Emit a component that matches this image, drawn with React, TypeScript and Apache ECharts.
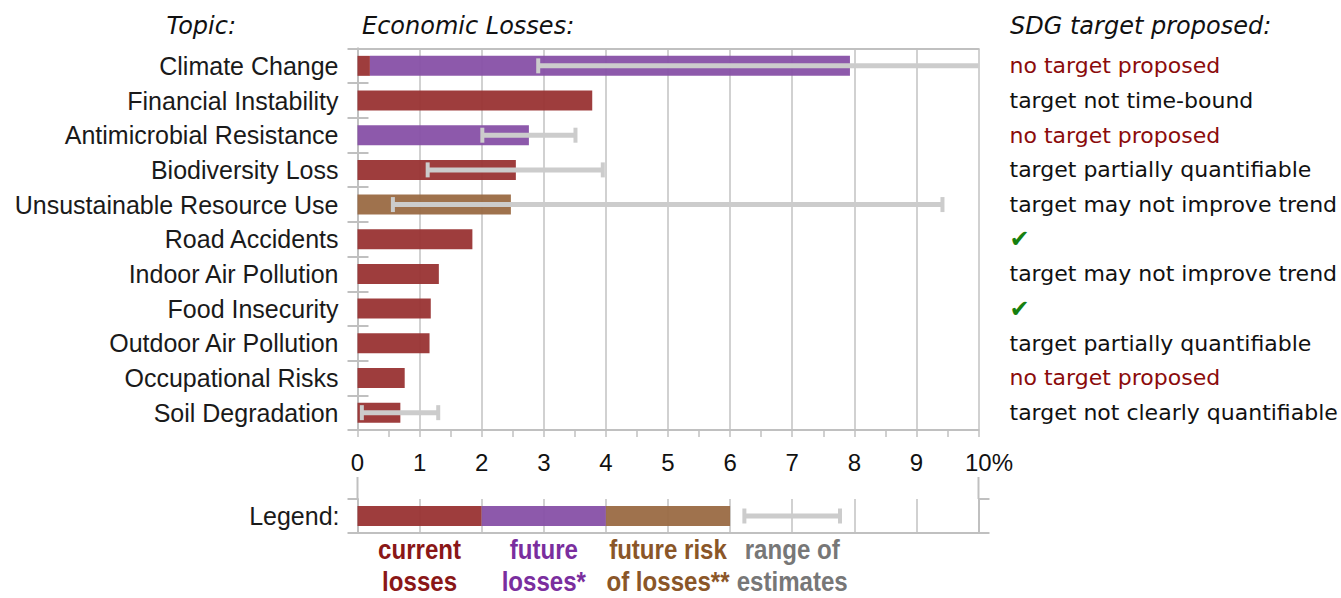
import React, { useEffect, useRef } from "react";
import * as echarts from "echarts";

const topics = [
  "Climate Change",
  "Financial Instability",
  "Antimicrobial Resistance",
  "Biodiversity Loss",
  "Unsustainable Resource Use",
  "Road Accidents",
  "Indoor Air Pollution",
  "Food Insecurity",
  "Outdoor Air Pollution",
  "Occupational Risks",
  "Soil Degradation",
];
const currentLosses = [0.2, 3.78, 0, 2.55, 0, 1.85, 1.31, 1.18, 1.16, 0.76, 0.69];
const futureLosses = [7.73, 0, 2.76, 0, 0, 0, 0, 0, 0, 0, 0];
const futureRiskLosses = [0, 0, 0, 0, 2.47, 0, 0, 0, 0, 0, 0];
const estimateLow: (number | null)[] = [2.91, null, 2.01, 1.13, 0.57, null, null, null, null, null, 0.07];
const estimateHigh: (number | null)[] = [10.5, null, 3.51, 3.95, 9.42, null, null, null, null, null, 1.3];
const sdgStatus = [
  "no target proposed",
  "target not time-bound",
  "no target proposed",
  "target partially quantifiable",
  "target may not improve trend",
  "✔",
  "target may not improve trend",
  "✔",
  "target partially quantifiable",
  "no target proposed",
  "target not clearly quantifiable",
];
const axisMax = 10;
const axisTickLabels = ["0", "1", "2", "3", "4", "5", "6", "7", "8", "9", "10%"];

const legendCategory = ["Legend:"];
const legendCurrent = [2];
const legendFuture = [2];
const legendRisk = [2];
const legendRange = [6.23, 7.77];
const legendLabels = [
  ["current", "losses"],
  ["future", "losses*"],
  ["future risk", "of losses**"],
  ["range of", "estimates"],
];
const legendLabelPositions = [1, 3, 5, 7];
const legendColors = ["#8a1717", "#7a2e9e", "#8a5628", "#777777"];

const RED = "#993333";
const PURPLE = "#8750a7";
const BROWN = "#9a6a43";
const GRID_COLOR = "#c2c2c2";
const FRAME_COLOR = "#c0c0c0";
const ERR_COLOR = "#cccccc";

const G0 = { left: 357.5, top: 48.5, width: 621, height: 381.5 };
const G1 = { left: 357.5, top: 499, width: 621, height: 34 };

function errorRender(params: any, api: any) {
  const lo = api.value(0);
  const hi = api.value(1);
  const cat = api.value(2);
  const p0 = api.coord([lo, cat]);
  const p1 = api.coord([Math.min(hi, axisMax), cat]);
  const capH = 15;
  const children: any[] = [
    {
      type: "line",
      shape: { x1: p0[0], y1: p0[1], x2: p1[0], y2: p1[1] },
      style: { stroke: ERR_COLOR, lineWidth: 5 },
    },
    {
      type: "line",
      shape: { x1: p0[0], y1: p0[1] - capH / 2, x2: p0[0], y2: p0[1] + capH / 2 },
      style: { stroke: ERR_COLOR, lineWidth: 4 },
    },
  ];
  if (hi <= axisMax) {
    children.push({
      type: "line",
      shape: { x1: p1[0], y1: p1[1] - capH / 2, x2: p1[0], y2: p1[1] + capH / 2 },
      style: { stroke: ERR_COLOR, lineWidth: 4 },
    });
  }
  return { type: "group", children };
}

export default function App() {
  const ref = useRef<HTMLDivElement>(null);
  useEffect(() => {
    if (!ref.current) return;
    const chart = echarts.init(ref.current, undefined, { renderer: "svg" });
    const errData: any[] = [];
    topics.forEach((_, i) => {
      if (estimateLow[i] != null && estimateHigh[i] != null) errData.push([estimateLow[i], estimateHigh[i], i]);
    });
    const unit = G1.width / axisMax;
    const legendGraphics: any[] = [];
    legendLabels.forEach((lines, i) => {
      lines.forEach((t, j) => {
        legendGraphics.push({
          type: "text",
          x: G1.left + legendLabelPositions[i] * unit,
          y: 549 + j * 32,
          scaleX: 0.86,
          style: {
            text: t,
            fill: legendColors[i],
            font: "bold 28px 'Liberation Sans', Arial, sans-serif",
            align: "center",
            verticalAlign: "middle",
            lineHeight: 22,
          },
        });
      });
    });
    const headerFont = "italic 24px 'DejaVu Sans', Verdana, sans-serif";
    const option: any = {
      animation: false,
      grid: [
        { left: G0.left, top: G0.top, width: G0.width, height: G0.height, outerBoundsMode: "none", containLabel: false },
        { left: G1.left, top: G1.top, width: G1.width, height: G1.height, outerBoundsMode: "none", containLabel: false },
      ],
      xAxis: [
        {
          type: "value",
          gridIndex: 0,
          min: 0,
          max: axisMax,
          interval: 1,
          axisLine: { show: true, onZero: false, lineStyle: { color: FRAME_COLOR, width: 2 } },
          axisTick: { show: true, length: 7, lineStyle: { color: FRAME_COLOR, width: 1.5 } },
          minorTick: { show: true, splitNumber: 2, length: 7, lineStyle: { color: FRAME_COLOR, width: 1.5 } },
          splitLine: { show: true, lineStyle: { color: GRID_COLOR, width: 1.5 } },
          axisLabel: {
            margin: 20,
            fontSize: 24,
            fontFamily: "'Liberation Sans', Arial, sans-serif",
            color: "#111111",
            formatter: (v: number) => {
              const s = axisTickLabels[Math.round(v)] ?? String(v);
              return s.endsWith("%") ? "{pad|}" + s : s;
            },
            rich: { pad: { width: 21 } },
          },
        },
        {
          type: "value",
          gridIndex: 0,
          position: "top",
          min: 0,
          max: axisMax,
          axisLine: { show: true, onZero: false, lineStyle: { color: FRAME_COLOR, width: 2 } },
          axisTick: { show: false },
          axisLabel: { show: false },
          splitLine: { show: false },
        },
        {
          type: "value",
          gridIndex: 1,
          min: 0,
          max: axisMax,
          interval: 1,
          axisLine: { show: true, onZero: false, lineStyle: { color: FRAME_COLOR, width: 2 } },
          axisTick: { show: false },
          axisLabel: { show: false },
          splitLine: { show: true, lineStyle: { color: GRID_COLOR, width: 1.5 } },
        },
      ],
      yAxis: [
        {
          type: "category",
          gridIndex: 0,
          data: topics,
          inverse: true,
          axisLine: { show: true, lineStyle: { color: FRAME_COLOR, width: 2 } },
          axisTick: { show: true, length: 10, lineStyle: { color: FRAME_COLOR, width: 2 } },
          axisLabel: {
            margin: 19,
            fontSize: 25,
            fontFamily: "'Liberation Sans', Arial, sans-serif",
            color: "#1a1a1a",
          },
        },
        {
          type: "category",
          gridIndex: 0,
          position: "right",
          data: topics,
          inverse: true,
          axisLine: { show: true, lineStyle: { color: FRAME_COLOR, width: 2 } },
          axisTick: { show: true, length: 11, lineStyle: { color: FRAME_COLOR, width: 2 } },
          axisLabel: {
            margin: 31,
            formatter: (_v: string, i: number) => {
              const s = sdgStatus[i];
              if (s === "✔") return "{ok|✔}";
              if (s === "no target proposed") return "{red|" + s + "}";
              return "{txt|" + s + "}";
            },
            rich: {
              txt: { fontSize: 22, fontFamily: "'DejaVu Sans', Verdana, sans-serif", color: "#111111" },
              red: { fontSize: 22, fontFamily: "'DejaVu Sans', Verdana, sans-serif", color: "#8b0b0b" },
              ok: { fontSize: 24, fontFamily: "'DejaVu Sans', sans-serif", color: "#16800f" },
            },
          },
        },
        {
          type: "category",
          gridIndex: 1,
          data: legendCategory,
          axisLine: { show: true, lineStyle: { color: FRAME_COLOR, width: 2 } },
          axisTick: { show: true, length: 10, lineStyle: { color: FRAME_COLOR, width: 2 } },
          axisLabel: {
            margin: 18,
            fontSize: 25,
            fontFamily: "'Liberation Sans', Arial, sans-serif",
            color: "#1a1a1a",
          },
        },
        {
          type: "category",
          gridIndex: 1,
          position: "right",
          data: legendCategory,
          axisLine: { show: true, lineStyle: { color: FRAME_COLOR, width: 2 } },
          axisTick: { show: true, length: 11, lineStyle: { color: FRAME_COLOR, width: 2 } },
          axisLabel: { show: false },
        },
      ],
      series: [
        {
          type: "bar",
          name: "current losses",
          xAxisIndex: 0,
          yAxisIndex: 0,
          stack: "main",
          barWidth: 20,
          data: currentLosses,
          itemStyle: { color: RED, opacity: 0.95 },
        },
        {
          type: "bar",
          name: "future losses",
          xAxisIndex: 0,
          yAxisIndex: 0,
          stack: "main",
          barWidth: 20,
          data: futureLosses,
          itemStyle: { color: PURPLE, opacity: 0.95 },
        },
        {
          type: "bar",
          name: "future risk of losses",
          xAxisIndex: 0,
          yAxisIndex: 0,
          stack: "main",
          barWidth: 20,
          data: futureRiskLosses,
          itemStyle: { color: BROWN, opacity: 0.95 },
        },
        {
          type: "custom",
          name: "range of estimates",
          xAxisIndex: 0,
          yAxisIndex: 0,
          renderItem: errorRender,
          encode: { x: [0, 1], y: 2 },
          data: errData,
          z: 5,
        },
        {
          type: "bar",
          xAxisIndex: 2,
          yAxisIndex: 2,
          stack: "legend",
          barWidth: 20,
          data: legendCurrent,
          itemStyle: { color: RED, opacity: 0.95 },
        },
        {
          type: "bar",
          xAxisIndex: 2,
          yAxisIndex: 2,
          stack: "legend",
          barWidth: 20,
          data: legendFuture,
          itemStyle: { color: PURPLE, opacity: 0.95 },
        },
        {
          type: "bar",
          xAxisIndex: 2,
          yAxisIndex: 2,
          stack: "legend",
          barWidth: 20,
          data: legendRisk,
          itemStyle: { color: BROWN, opacity: 0.95 },
        },
        {
          type: "custom",
          xAxisIndex: 2,
          yAxisIndex: 2,
          renderItem: errorRender,
          encode: { x: [0, 1], y: 2 },
          data: [[legendRange[0], legendRange[1], 0]],
          z: 5,
        },
      ],
      graphic: [
        {
          type: "text",
          x: 236,
          y: 26,
          style: { text: "Topic:", font: headerFont, fill: "#111111", align: "right", verticalAlign: "middle" },
        },
        {
          type: "text",
          x: 362,
          y: 26,
          style: { text: "Economic Losses:", font: headerFont, fill: "#111111", align: "left", verticalAlign: "middle" },
        },
        {
          type: "text",
          x: 1010,
          y: 26,
          style: { text: "SDG target proposed:", font: headerFont, fill: "#111111", align: "left", verticalAlign: "middle" },
        },
        {
          type: "line",
          shape: { x1: G1.left, y1: 477, x2: G1.left, y2: G1.top },
          style: { stroke: FRAME_COLOR, lineWidth: 2 },
        },
        {
          type: "line",
          shape: { x1: G1.left + G1.width, y1: 477, x2: G1.left + G1.width, y2: G1.top },
          style: { stroke: FRAME_COLOR, lineWidth: 2 },
        },
        ...legendGraphics,
      ],
    };
    chart.setOption(option);
    return () => chart.dispose();
  }, []);
  return (
    <div
      ref={ref}
      style={{ position: "absolute", left: 0, top: 0, width: 1341, height: 598, background: "#ffffff" }}
    />
  );
}
